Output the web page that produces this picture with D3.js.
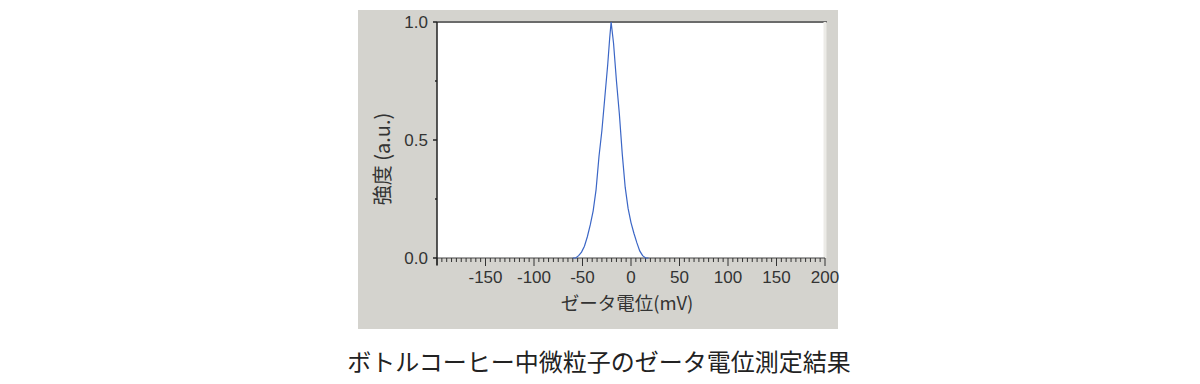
<!DOCTYPE html>
<html>
<head>
<meta charset="utf-8">
<script src="https://cdn.jsdelivr.net/npm/d3@7"></script>
<style>
  body { margin: 0; background: #fff; }
  svg { display: block; }
  text { font-family: "Liberation Sans", "Noto Sans CJK JP", sans-serif; }
  .jp { font-family: "Noto Sans CJK JP", sans-serif; }
</style>
</head>
<body>
<div id="chart"></div>
<script>
// zeta potential (mV) vs relative intensity
const zeta = [-60, -57, -54, -51, -48, -45, -42, -39, -36, -33, -30, -27, -24, -22, -20.5, -18, -15, -12, -9, -6, -3, 0, 3, 6, 9, 12, 15, 18];
const intensity = [0, 0, 0.01, 0.025, 0.05, 0.09, 0.14, 0.2, 0.29, 0.43, 0.54, 0.68, 0.82, 0.93, 1.0, 0.91, 0.75, 0.61, 0.44, 0.3, 0.21, 0.15, 0.105, 0.065, 0.03, 0.01, 0, 0];
const xTicks = [-150, -100, -50, 0, 50, 100, 150, 200];
const yTicks = [0, 0.5, 1.0];

const xLabel = "ゼータ電位(mV)";
const yLabel = "強度 (a.u.)";
const title = "ボトルコーヒー中微粒子のゼータ電位測定結果";

const svgWidth = 1200,
  svgHeight = 384,
  panel = { x: 358, y: 10, w: 480, h: 319 },
  margin = { top: 22, left: 437 },
  width = 388,
  height = 236;

const data = zeta.map((z, i) => ({ x: z, y: intensity[i] }));

let x = d3.scaleLinear().domain([-200, 200]).range([0, width]),
  y = d3.scaleLinear().domain([0, 1]).range([height, 0]);

let svg = d3
  .select("#chart")
  .append("svg")
  .attr("width", svgWidth)
  .attr("height", svgHeight);

// gray panel
svg
  .append("rect")
  .attr("x", panel.x)
  .attr("y", panel.y)
  .attr("width", panel.w)
  .attr("height", panel.h)
  .attr("fill", "#d4d3ce");

let g = svg
  .append("g")
  .attr("transform", "translate(" + margin.left + "," + margin.top + ")");

// plot area
g.append("rect")
  .attr("width", width)
  .attr("height", height)
  .attr("fill", "#fff");

// frame: dark top, light right
g.append("line")
  .attr("x1", 0)
  .attr("x2", width + 2)
  .attr("y1", 0)
  .attr("y2", 0)
  .attr("stroke", "#6b6b6b")
  .attr("stroke-width", 2);
g.append("line")
  .attr("x1", width)
  .attr("x2", width)
  .attr("y1", 0)
  .attr("y2", height)
  .attr("stroke", "#ecebe7")
  .attr("stroke-width", 3);

// x axis: minor ticks every 5, major every 50
let xAxis = g
  .append("g")
  .attr("class", "x-axis")
  .attr("transform", "translate(0," + height + ")");

xAxis
  .append("line")
  .attr("x1", 0)
  .attr("x2", width)
  .attr("stroke", "#444")
  .attr("stroke-width", 1);

xAxis
  .selectAll(".minor")
  .data(d3.range(-200, 201, 5))
  .enter()
  .append("line")
  .attr("class", "minor")
  .attr("x1", d => x(d))
  .attr("x2", d => x(d))
  .attr("y1", 0)
  .attr("y2", d => (d % 50 === 0 ? 8 : 4))
  .attr("stroke", "#333")
  .attr("stroke-width", 1);

xAxis
  .selectAll(".tick-label")
  .data(xTicks)
  .enter()
  .append("text")
  .attr("class", "tick-label")
  .attr("x", d => x(d))
  .attr("y", 25)
  .attr("text-anchor", "middle")
  .attr("font-size", 17)
  .attr("fill", "#333")
  .text(d => (d < 0 ? "-" + Math.abs(d) : d));

// y axis
let yAxis = g.append("g").attr("class", "y-axis");

yAxis
  .append("line")
  .attr("x1", 0)
  .attr("x2", 0)
  .attr("y1", 0)
  .attr("y2", height + 7)
  .attr("stroke", "#222")
  .attr("stroke-width", 1.5);

yAxis
  .selectAll(".ytick")
  .data([0, 0.25, 0.5, 0.75, 1])
  .enter()
  .append("line")
  .attr("class", "ytick")
  .attr("x1", d => (yTicks.includes(d) ? -4 : -2))
  .attr("x2", 0)
  .attr("y1", d => y(d))
  .attr("y2", d => y(d))
  .attr("stroke", "#222")
  .attr("stroke-width", 1.5);

yAxis
  .selectAll(".tick-label")
  .data(yTicks)
  .enter()
  .append("text")
  .attr("class", "tick-label")
  .attr("x", -9)
  .attr("y", d => y(d))
  .attr("dy", "0.35em")
  .attr("text-anchor", "end")
  .attr("font-size", 17)
  .attr("fill", "#333")
  .text(d => d.toFixed(1));

// curve
let line = d3
  .line()
  .x(d => x(d.x))
  .y(d => y(d.y));

g.append("path")
  .datum(data)
  .attr("fill", "none")
  .attr("stroke", "#3b66c6")
  .attr("stroke-width", 1.2)
  .attr("d", line);

// axis labels
svg
  .append("text")
  .attr("class", "jp")
  .attr("x", 627)
  .attr("y", 310)
  .attr("text-anchor", "middle")
  .attr("font-size", 18.5)
  .attr("fill", "#333")
  .text(xLabel);

svg
  .append("text")
  .attr("class", "jp")
  .attr("transform", "translate(390,159) rotate(-90)")
  .attr("text-anchor", "middle")
  .attr("font-size", 20)
  .attr("fill", "#333")
  .text(yLabel);

// title
svg
  .append("text")
  .attr("class", "jp")
  .attr("x", 599)
  .attr("y", 371)
  .attr("text-anchor", "middle")
  .attr("font-size", 24)
  .attr("fill", "#222")
  .text(title);
</script>
</body>
</html>
